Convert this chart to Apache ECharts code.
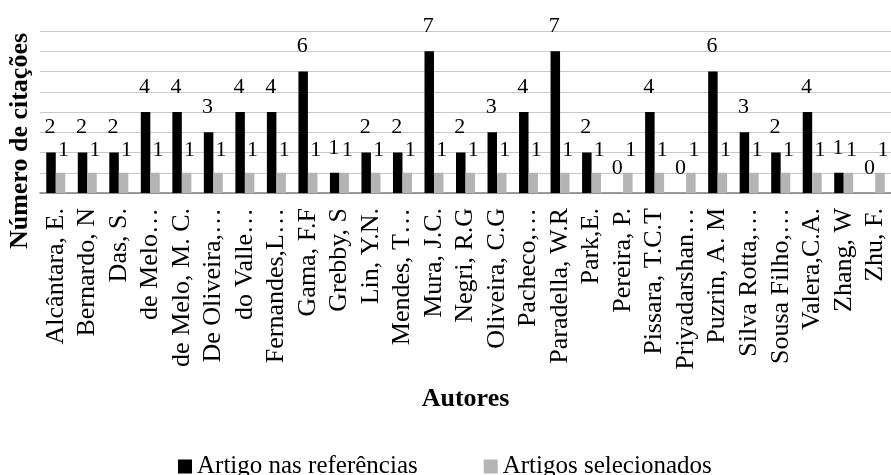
<!DOCTYPE html>
<html>
<head>
<meta charset="utf-8">
<script src="https://cdn.jsdelivr.net/npm/echarts@6/dist/echarts.min.js"></script>
<style>html,body{margin:0;padding:0;background:#fff;}#c{width:891px;height:475px;}</style>
</head>
<body>
<div id="c"></div>
<script>
const categories = ["Alcântara, E.","Bernardo, N","Das, S.","de Melo…","de Melo, M. C.","De Oliveira,…","do Valle…","Fernandes,L…","Gama, F.F","Grebby, S","Lin, Y.N.","Mendes, T…","Mura, J.C.","Negri, R.G","Oliveira, C.G","Pacheco,…","Paradella, W.R","Park,E.","Pereira, P.","Pissara, T.C.T","Priyadarshan…","Puzrin, A. M","Silva Rotta,…","Sousa Filho,…","Valera,C.A.","Zhang, W","Zhu, F."];
const referencias = [2,2,2,4,4,3,4,4,6,1,2,2,7,2,3,4,7,2,0,4,0,6,3,2,4,1,0];
const selecionados = [1,1,1,1,1,1,1,1,1,1,1,1,1,1,1,1,1,1,1,1,1,1,1,1,1,1,1];
const seriesNames = ["Artigo nas referências","Artigos selecionados"];
const yTitle = "Número de citações";
const xTitle = "Autores";

const FONT = "'Liberation Serif','Times New Roman',serif";
const chart = echarts.init(document.getElementById('c'));
chart.setOption({
  animation: false,
  textStyle: {fontFamily: FONT},
  grid: {left: 40, right: -3, top: 31, bottom: 282, containLabel: false},
  legend: {
    left: 178, top: 454, itemWidth: 14, itemHeight: 14, itemGap: 66,
    icon: 'rect', padding: 0,
    textStyle: {fontFamily: FONT, fontSize: 25, color: '#000'},
    data: seriesNames
  },
  graphic: [{
    type: 'text', x: 20, y: 141, rotation: Math.PI/2,
    style: {text: yTitle, fontFamily: FONT, fontSize: 26, fontWeight: 'bold', fill: '#000', align: 'center', verticalAlign: 'middle'}
  }],
  xAxis: {
    type: 'category', data: categories,
    name: xTitle, nameLocation: 'middle', nameGap: 193,
    nameTextStyle: {fontFamily: FONT, fontSize: 26, fontWeight: 'bold', color: '#000'},
    axisTick: {show: false},
    axisLine: {lineStyle: {color: '#7f7f7f', width: 1.5}},
    axisLabel: {interval: 0, rotate: 90, fontFamily: FONT, fontSize: 26, color: '#000', margin: 15}
  },
  yAxis: {
    type: 'value', min: 0, max: 8, interval: 1,
    axisLabel: {show: false}, axisLine: {show: false}, axisTick: {show: false},
    splitLine: {lineStyle: {color: '#c8c8c8', width: 1.2}}
  },
  series: [
    {
      name: seriesNames[0], type: 'bar', data: referencias, barWidth: 9.5, barGap: '0%',
      itemStyle: {color: '#000'},
      label: {show: true, position: 'top', distance: 14, offset: [-1, 0], fontFamily: FONT, fontSize: 22, color: '#000'}
    },
    {
      name: seriesNames[1], type: 'bar', data: selecionados, barWidth: 9.5,
      itemStyle: {color: '#b4b4b4'},
      label: {show: true, position: 'top', distance: 12, offset: [3, 0], fontFamily: FONT, fontSize: 22, color: '#000'}
    }
  ]
});
</script>
</body>
</html>
